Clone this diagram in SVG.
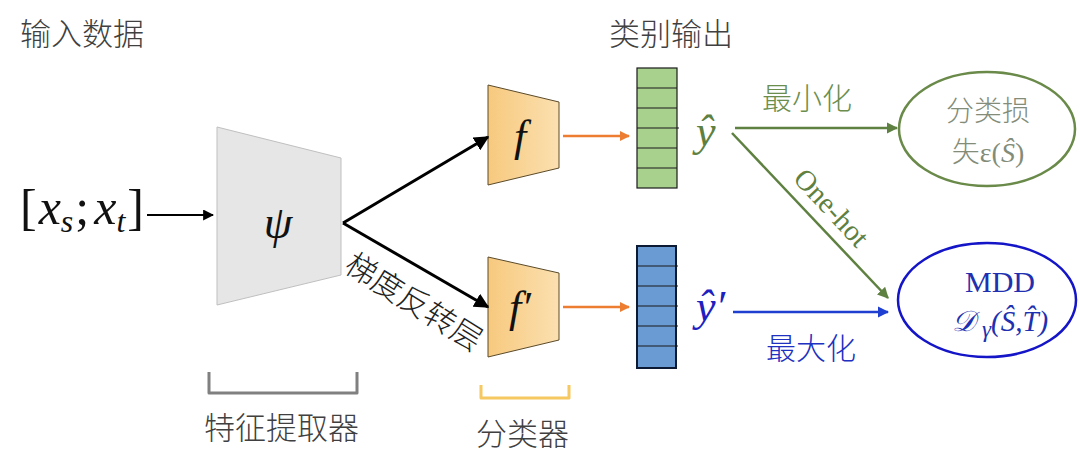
<svg xmlns="http://www.w3.org/2000/svg" width="1080" height="469" viewBox="0 0 1080 469">
<style>
.cjk{font-family:"Noto Sans CJK SC","Noto Sans",sans-serif;font-weight:300}
.math{font-family:"Liberation Serif","DejaVu Serif",serif;font-style:italic}
.serif{font-family:"Liberation Serif","DejaVu Serif",serif}
.lbl{fill:#404040;font-size:31px}
.cell{stroke:#1a1a1a;stroke-width:1.2}
</style>
<defs>
<linearGradient id="og" x1="0" y1="0" x2="1" y2="0">
<stop offset="0" stop-color="#F7C97E"/>
<stop offset="1" stop-color="#FBE0B0"/>
</linearGradient>
<marker id="mk" viewBox="0 0 10 10" refX="9" refY="5" markerWidth="5" markerHeight="5" orient="auto"><path d="M0,0 L10,5 L0,10 z" fill="#000"/></marker>
<marker id="mo" viewBox="0 0 10 10" refX="9" refY="5" markerWidth="4" markerHeight="4" orient="auto"><path d="M0,0 L10,5 L0,10 z" fill="#ED7D31"/></marker>
<marker id="mg" viewBox="0 0 10 10" refX="9" refY="5" markerWidth="4.5" markerHeight="4.5" orient="auto"><path d="M0,0 L10,5 L0,10 z" fill="#5E8040"/></marker>
<marker id="mb" viewBox="0 0 10 10" refX="9" refY="5" markerWidth="4.5" markerHeight="4.5" orient="auto"><path d="M0,0 L10,5 L0,10 z" fill="#1F3FD0"/></marker>
</defs>
<rect width="1080" height="469" fill="#fff"/>

<text class="cjk lbl" x="20" y="45">输入数据</text>
<text class="cjk lbl" x="609" y="45">类别输出</text>

<g id="input">
<text class="serif" x="20" y="224" font-size="50" fill="#111">[<tspan class="math" dx="2">x</tspan><tspan class="math" font-size="32" dy="8">s</tspan><tspan dy="-8" dx="2">;</tspan><tspan class="math" dx="5">x</tspan><tspan class="math" font-size="32" dy="8">t</tspan><tspan dy="-8" dx="2">]</tspan></text>
</g>

<g id="feature-extractor">
<path d="M217,127 L341,158 L341,275 L217,305 Z" fill="#E6E6E6" stroke="#BFBFBF" stroke-width="1"/>
<text class="math" x="278" y="238" font-size="46" text-anchor="middle" fill="#111">ψ</text>
</g>

<g id="classifier-f">
<path d="M488,85 L559,102 L559,168 L488,185 Z" fill="url(#og)" stroke="#5a4a2a" stroke-width="1"/>
<text class="math" x="520" y="151" font-size="44" text-anchor="middle" fill="#111">f</text>
</g>

<g id="classifier-f2">
<path d="M488,257 L559,273 L559,340 L488,357 Z" fill="url(#og)" stroke="#5a4a2a" stroke-width="1"/>
<text class="math" x="520" y="322" font-size="44" text-anchor="middle" fill="#111">f′</text>
</g>

<g id="output-green">
<rect x="637" y="68" width="40" height="120" fill="#A9D18E" class="cell" stroke-width="2"/>
<path d="M637,88H677M637,108H677M637,128H679M637,148H677M637,168H677" class="cell"/>
</g>

<g id="output-blue">
<rect x="637" y="246" width="39" height="122" fill="#6A9BD3" stroke="#0d1a33" stroke-width="2"/>
<path d="M637,266H678M637,286H678M637,306H678M637,326H678M637,346H678" class="cell"/>
</g>

<g id="y-hat"><text class="math" x="696" y="146" font-size="44" fill="#5E8040">ŷ</text></g>
<g id="y-hat-prime"><text class="math" x="696" y="321" font-size="44" fill="#2020C0">ŷ′</text></g>

<g id="loss">
<ellipse cx="987" cy="129" rx="88" ry="57" fill="none" stroke="#6A8A4A" stroke-width="2.5"/>
<text class="cjk" x="988" y="121" font-size="28" text-anchor="middle" fill="#838C78">分类损</text>
<text x="988" y="162" font-size="28" text-anchor="middle" fill="#838C78"><tspan class="cjk">失</tspan><tspan class="serif">ε(</tspan><tspan class="math">Ŝ</tspan><tspan class="serif">)</tspan></text>
</g>

<g id="mdd">
<ellipse cx="987" cy="300" rx="89" ry="57" fill="none" stroke="#1515C8" stroke-width="2.5"/>
<text class="serif" x="1000" y="292" font-size="30" text-anchor="middle" fill="#2030B0">MDD</text>
<text class="math" x="1000" y="331" font-size="29" text-anchor="middle" fill="#2030B0">𝒟 <tspan font-size="23" dy="6">γ</tspan><tspan dy="-6">(Ŝ,T̂)</tspan></text>
</g>

<g id="brackets">
<path d="M209,372 V393 H357 V372" fill="none" stroke="#808080" stroke-width="3" stroke-linejoin="round"/>
<text class="cjk lbl" x="204" y="439">特征提取器</text>
<path d="M481,385 V398 H569 V385" fill="none" stroke="#F5C861" stroke-width="3" stroke-linejoin="round"/>
<text class="cjk lbl" x="476" y="445">分类器</text>
</g>

<g id="connectors" fill="none">
<line x1="147" y1="215" x2="213" y2="215" stroke="#000" stroke-width="2.2" marker-end="url(#mk)"/>
<line x1="343" y1="223" x2="488" y2="137" stroke="#000" stroke-width="3" marker-end="url(#mk)"/>
<line x1="343" y1="223" x2="488" y2="307" stroke="#000" stroke-width="3" marker-end="url(#mk)"/>
<line x1="563" y1="136" x2="629" y2="136" stroke="#ED7D31" stroke-width="2.5" marker-end="url(#mo)"/>
<line x1="563" y1="307" x2="629" y2="307" stroke="#ED7D31" stroke-width="2.5" marker-end="url(#mo)"/>
<line x1="735" y1="128" x2="897" y2="128" stroke="#5E8040" stroke-width="2.5" marker-end="url(#mg)"/>
<line x1="732" y1="133" x2="888" y2="298" stroke="#5E8040" stroke-width="2.5" marker-end="url(#mg)"/>
<line x1="733" y1="312" x2="888" y2="312" stroke="#1F3FD0" stroke-width="2.5" marker-end="url(#mb)"/>
<text class="cjk" x="0" y="11" font-size="31" text-anchor="middle" fill="#222" transform="translate(414,302) rotate(32)">梯度反转层</text>
<text class="cjk" x="807" y="109" font-size="30" text-anchor="middle" fill="#6B8E4E">最小化</text>
<text class="cjk" x="811" y="359" font-size="30" text-anchor="middle" fill="#2030C0">最大化</text>
<text class="serif" x="0" y="9" font-size="29" text-anchor="middle" fill="#5E8040" transform="translate(831,208) rotate(47)">One-hot</text>
</g>
</svg>
